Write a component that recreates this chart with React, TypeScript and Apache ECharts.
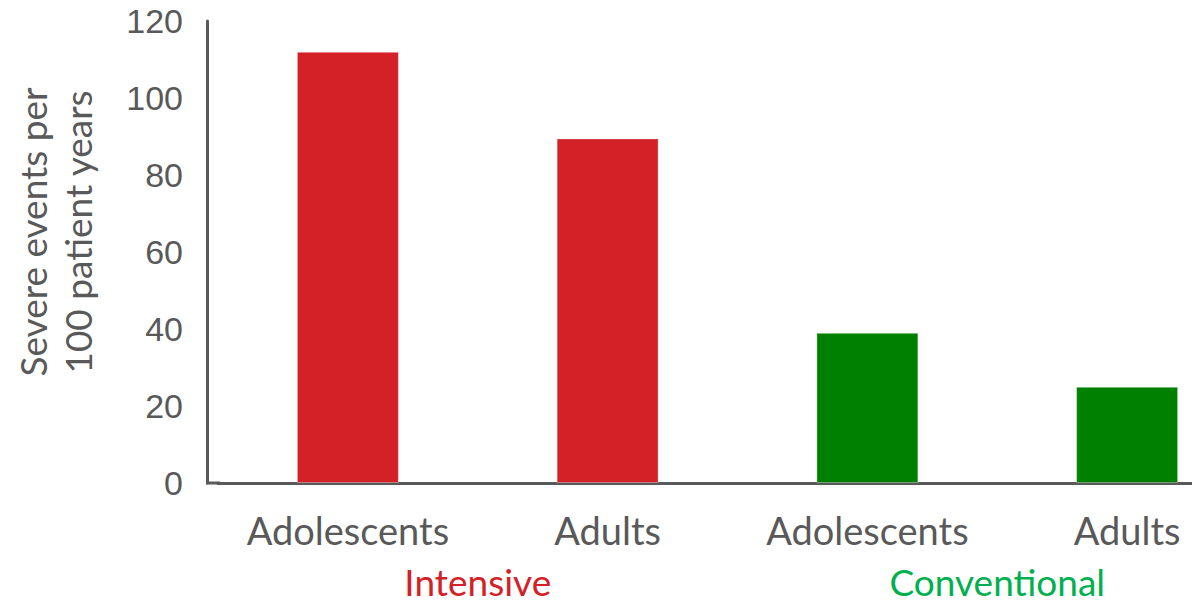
import React, { useEffect, useRef } from "react";
import * as echarts from "echarts";

const categories = ["Adolescents", "Adults", "Adolescents", "Adults"];
const groups = ["Intensive", "Conventional"];
const values = [112, 89.5, 39, 25];
const barColors = ["#D42027", "#D42027", "#008000", "#008000"];
const groupColors = ["#D42027", "#00B050"];
const yTicks = { min: 0, max: 120, interval: 20 };
const yTitle = "Severe events per\n100 patient years";

export default function App() {
  const ref = useRef<HTMLDivElement>(null);
  useEffect(() => {
    document.body.style.margin = "0";
    const chart = echarts.init(ref.current!, null, { renderer: "svg" });
    const axisColor = "#595959";
    chart.setOption({
      animation: false,
      backgroundColor: "#ffffff",
      grid: { left: 218, right: 3, top: 21, bottom: 121, containLabel: false },
      xAxis: [
        {
          type: "category",
          data: categories,
          position: "bottom",
          axisLine: { show: true, lineStyle: { color: axisColor, width: 3 } },
          axisTick: { show: false },
          axisLabel: {
            color: axisColor,
            fontFamily: "Lato, 'Open Sans', sans-serif",
            fontSize: 38,
            margin: 28,
            interval: 0,
          },
          splitLine: { show: false },
        },
        {
          type: "category",
          data: groups.map((g, i) => ({ value: g, textStyle: { color: groupColors[i] } })),
          position: "bottom",
          axisLine: { show: false },
          axisTick: { show: false },
          axisLabel: {
            fontFamily: "Lato, 'Open Sans', sans-serif",
            fontSize: 37,
            margin: 79,
            lineHeight: 38,
            interval: 0,
          },
          splitLine: { show: false },
        },
      ],
      yAxis: {
        type: "value",
        min: yTicks.min,
        max: yTicks.max,
        interval: yTicks.interval,
        offset: 11,
        axisLine: { show: true, lineStyle: { color: axisColor, width: 3 } },
        axisTick: { show: false },
        splitLine: { show: false },
        axisLabel: {
          color: axisColor,
          fontFamily: "'Liberation Sans', Arial, sans-serif",
          fontSize: 34,
          margin: 24,
        },
      },
      graphic: [
        {
          type: "line",
          shape: { x1: 206, y1: 483, x2: 220, y2: 483 },
          style: { stroke: axisColor, lineWidth: 3 },
        },
        {
          type: "text",
          x: 55,
          y: 232,
          rotation: Math.PI / 2,
          style: {
            text: yTitle,
            fill: axisColor,
            font: "37px Lato, 'Open Sans', sans-serif",
            align: "center",
            verticalAlign: "middle",
            lineHeight: 45,
          },
        },
      ],
      series: [
        {
          type: "bar",
          xAxisIndex: 0,
          barWidth: 102,
          data: values.map((v, i) => ({
            value: v,
            itemStyle: {
              color: barColors[i],
              borderColor: "rgba(255,255,255,0.35)",
              borderWidth: 1,
            },
          })),
        },
      ],
    });
    return () => chart.dispose();
  }, []);
  return (
    <div
      ref={ref}
      style={{ position: "fixed", left: 0, top: 0, width: 1260, height: 604 }}
    />
  );
}
